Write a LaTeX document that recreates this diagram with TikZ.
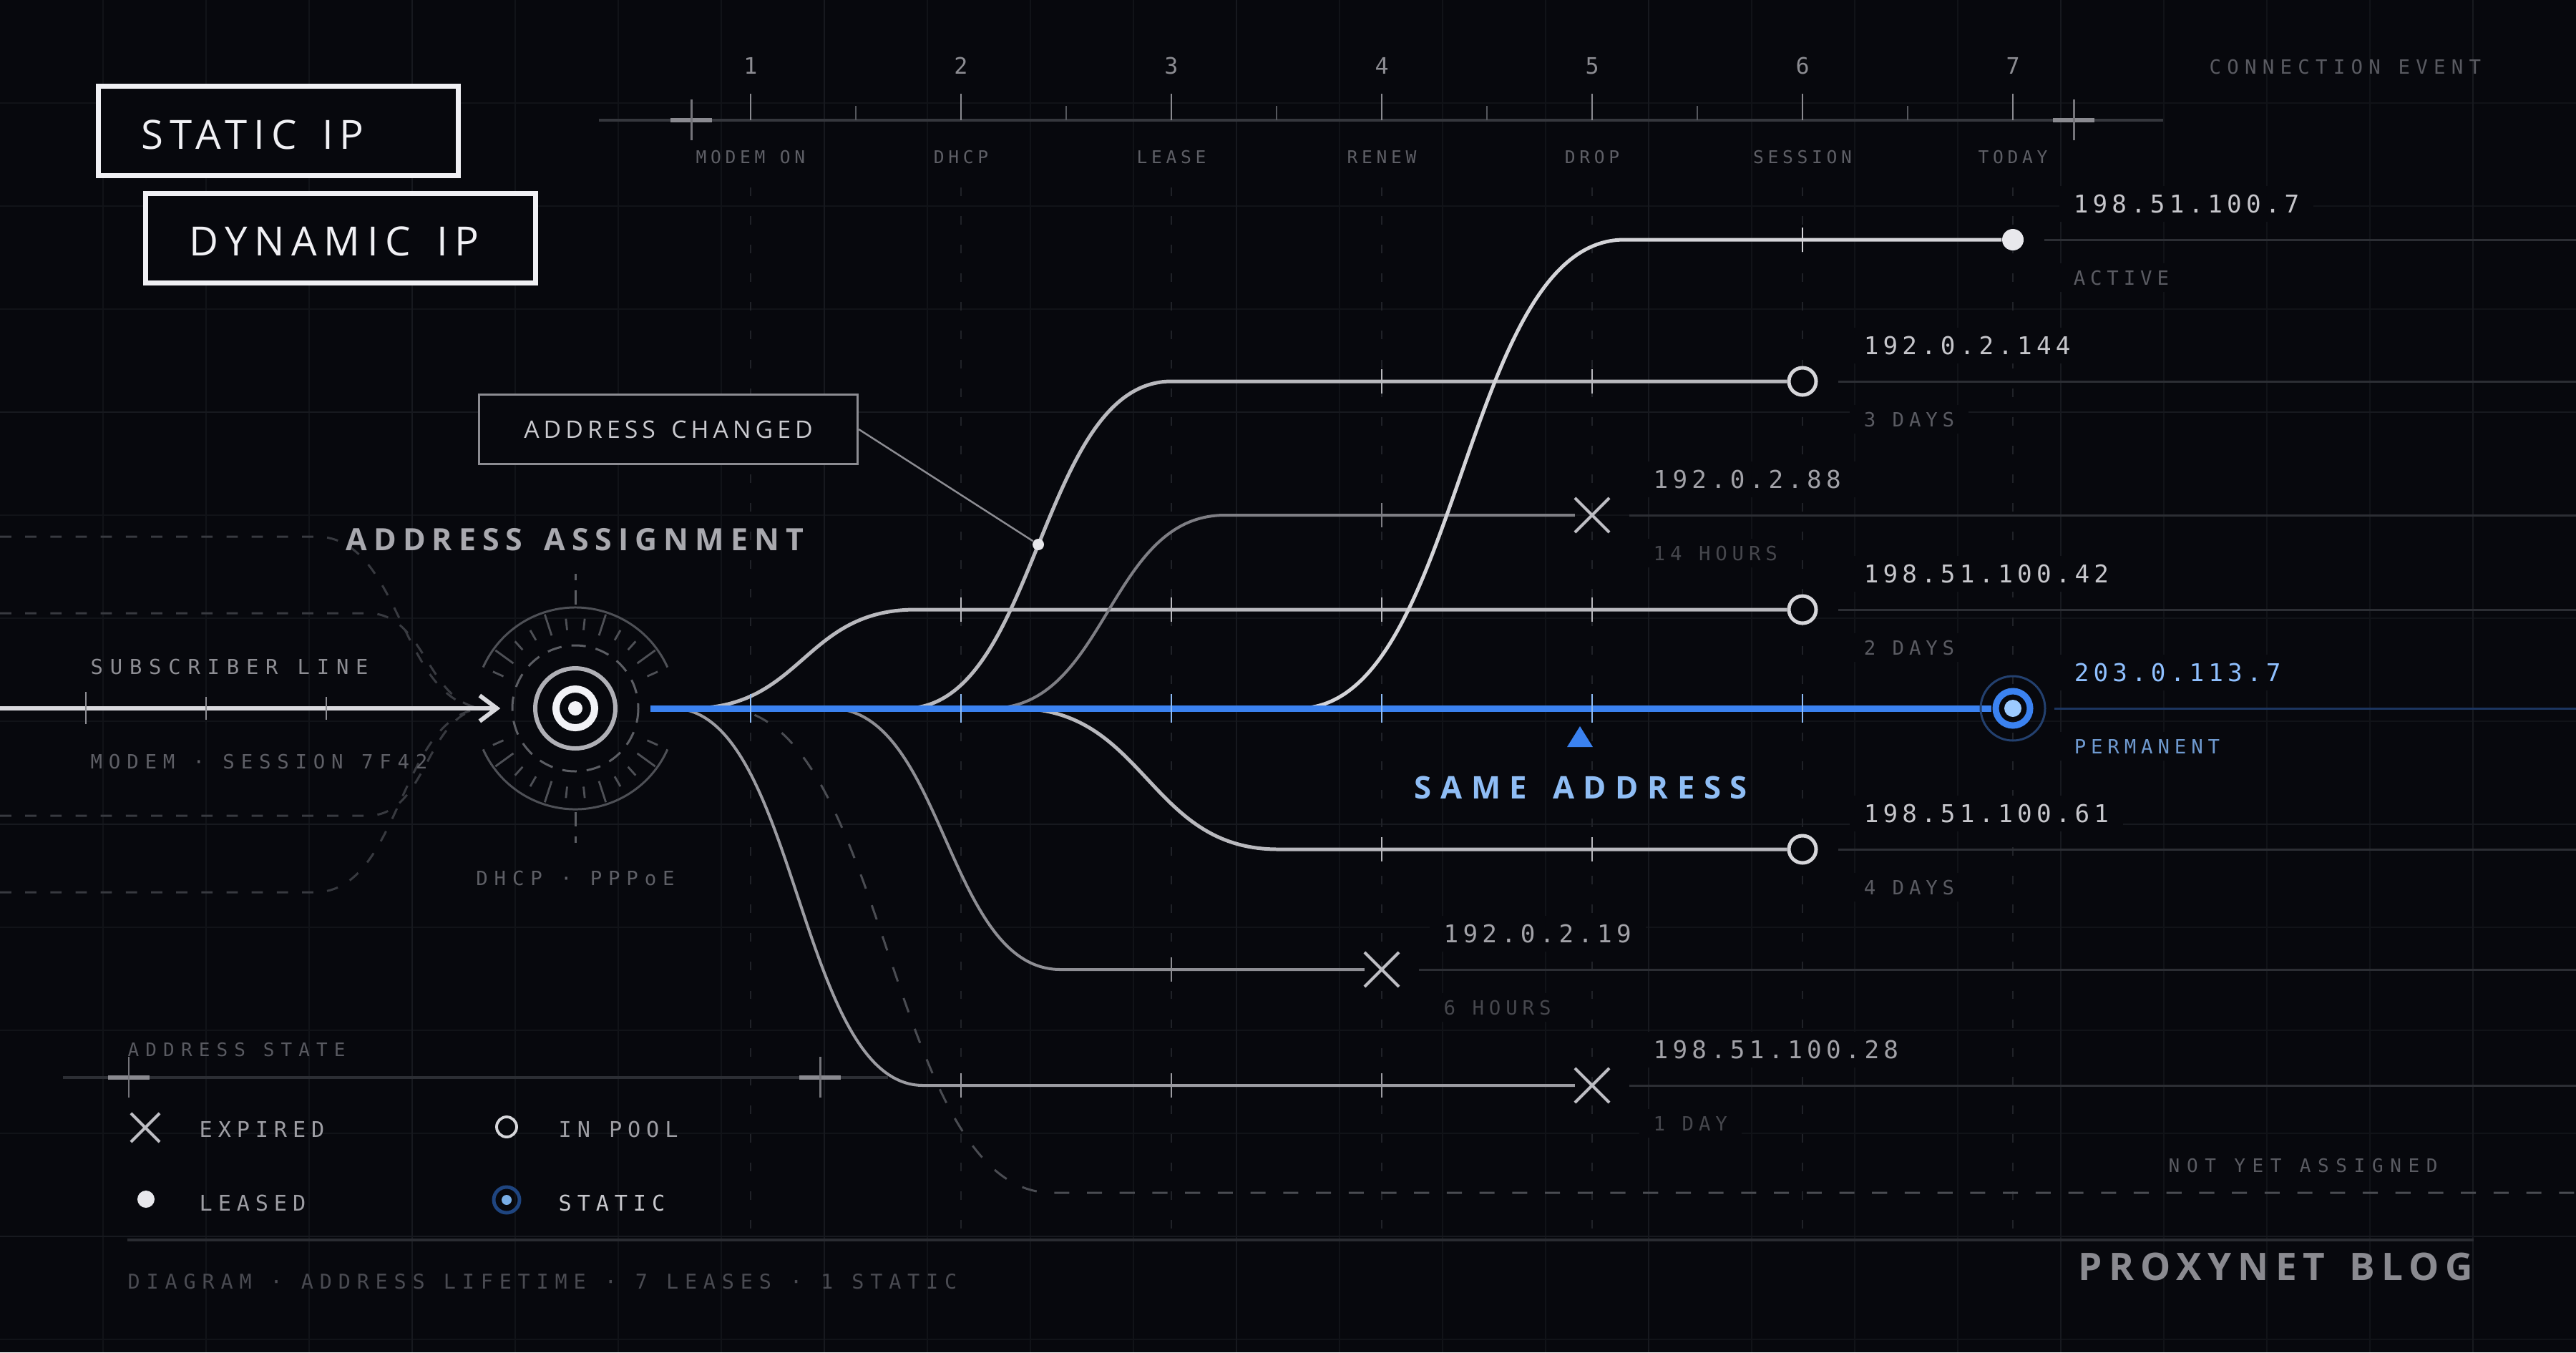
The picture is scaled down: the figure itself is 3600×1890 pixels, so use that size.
\documentclass[tikz,border=0pt]{standalone}
\usepackage{fontspec}
\usetikzlibrary{arrows.meta}
\usetikzlibrary{shapes.misc}
\usetikzlibrary{calc}

\newfontfamily\monof{DejaVu Sans Mono}
\newfontfamily\sansf{Open Sans}[WordSpace=1.5]

\definecolor{bg}{HTML}{07080D}
\definecolor{gridc}{HTML}{111318}
\definecolor{gridm}{HTML}{17191F}
\definecolor{colc}{HTML}{202228}
\definecolor{axisc}{HTML}{35373D}
\definecolor{tickc}{HTML}{8A8A90}
\definecolor{tickm}{HTML}{55575D}
\definecolor{crossc}{HTML}{74747A}
\definecolor{numc}{HTML}{8C8C92}
\definecolor{evlabc}{HTML}{5E5F66}
\definecolor{headc}{HTML}{595A61}
\definecolor{tagw}{HTML}{F0F0F4}
\definecolor{calloutc}{HTML}{8C8C92}
\definecolor{callouttxt}{HTML}{CACACF}
\definecolor{secc}{HTML}{A9A9AF}
\definecolor{subheadc}{HTML}{8E8E94}
\definecolor{notec}{HTML}{5E5F66}
\definecolor{feedc}{HTML}{383A40}
\definecolor{linew}{HTML}{D9D9DD}
\definecolor{hubw}{HTML}{F2F2F6}
\definecolor{hubg}{HTML}{B0B0B6}
\definecolor{hubd}{HTML}{5C5E64}
\definecolor{hubarc}{HTML}{4E5056}
\definecolor{blue}{HTML}{3B82F0}
\definecolor{bluetick}{HTML}{8DBBF5}
\definecolor{bluetxt}{HTML}{8FC0FF}
\definecolor{permc}{HTML}{6F9AD0}
\definecolor{bluefaint}{HTML}{1C3560}
\definecolor{sameblue}{HTML}{8FBDF5}
\definecolor{rowa}{HTML}{D4D4D8}
\definecolor{rowb}{HTML}{B9B9BE}
\definecolor{rowc}{HTML}{7E7E84}
\definecolor{rowd}{HTML}{8E8E94}
\definecolor{rowe}{HTML}{9C9CA2}
\definecolor{extc}{HTML}{2C2E34}
\definecolor{iptxt}{HTML}{C6C6CB}
\definecolor{iptxtdim}{HTML}{A2A2A8}
\definecolor{subtxt}{HTML}{5A5B62}
\definecolor{subtxtdim}{HTML}{46474D}
\definecolor{xc}{HTML}{BEBEC4}
\definecolor{poolc}{HTML}{D6D6DA}
\definecolor{leasec}{HTML}{E8E8EC}
\definecolor{pendc}{HTML}{4A4C52}
\definecolor{statring}{HTML}{23406E}
\definecolor{statdot}{HTML}{9CCAFF}
\definecolor{legtxt}{HTML}{9E9EA4}
\definecolor{legstatic}{HTML}{C8C8CD}
\definecolor{legring}{HTML}{1F4580}
\definecolor{legdot}{HTML}{79AEE6}
\definecolor{footc}{HTML}{2A2C32}
\definecolor{foottxt}{HTML}{4A4B52}
\definecolor{brandc}{HTML}{8A8A90}

\tikzset{
  monofont/.style 2 args={font={\monof\fontsize{#1}{#1}\selectfont\addfontfeatures{LetterSpace=#2}}},
  sansfont/.style 2 args={font={\sansf\fontsize{#1}{#1}\selectfont\addfontfeatures{LetterSpace=#2}}},
  boldfont/.style 2 args={font={\sansf\bfseries\fontsize{#1}{#1}\selectfont\addfontfeatures{LetterSpace=#2}}},
  txt/.style={inner sep=0pt, anchor=base west},
  gridline/.style={draw=gridc, line width=0.57pt},
  gridmajor/.style={draw=gridm, line width=0.57pt},
  eventcol/.style={draw=colc, line width=0.7pt, dash pattern=on 3.4pt off 8pt},
  axis/.style={draw=axisc, line width=1.1pt},
  majortick/.style={draw=tickc, line width=0.8pt},
  minortick/.style={draw=tickm, line width=0.8pt},
  crossv/.style={draw=crossc, line width=0.85pt},
  crossh/.style={draw=tickc, line width=1.7pt},
  evnum/.style={monofont={9}{0}, text=numc, inner sep=0pt, anchor=base},
  evlab/.style={monofont={7}{23}, text=evlabc, inner sep=0pt, anchor=base},
  evhead/.style={txt, monofont={7.8}{30}, text=headc},
  tagframe/.style={draw=tagw, line width=2pt, fill=bg, inner sep=0pt},
  tagtext/.style={txt, sansfont={16}{16}, text=tagw},
  callout/.style={draw=calloutc, line width=0.85pt, fill=bg, minimum width=5.29cm,
    minimum height=0.96cm, sansfont={9.6}{18}, text=callouttxt},
  pindot/.style={circle, fill=leasec, minimum size=0.16cm, inner sep=0pt},
  leader/.style={draw=calloutc, line width=0.7pt},
  sectitle/.style={txt, boldfont={12.2}{21}, text=secc},
  subhead/.style={txt, monofont={8.2}{34}, text=subheadc},
  subnote/.style={txt, monofont={7.8}{32}, text=notec},
  feed/.style={draw=feedc, line width=0.85pt, dash pattern=on 4.5pt off 5.5pt},
  subline/.style={draw=linew, line width=1.7pt, -{Straight Barb[length=6.8pt,width=10.2pt]}},
  subtick/.style={draw=subheadc, line width=0.8pt},
  hubn/.style={circle, minimum size=2.08cm, inner sep=0pt},
  hubdash/.style={draw=hubd, line width=0.85pt, dash pattern=on 5.7pt off 4pt},
  hubtick/.style={draw=hubarc, line width=0.8pt},
  rowhi/.style={draw=rowa, line width=1.42pt},
  rowmid/.style={draw=rowb, line width=1.42pt},
  rowlow/.style={draw=rowc, line width=1.14pt},
  rowdim/.style={draw=rowd, line width=1.14pt},
  rowold/.style={draw=rowe, line width=1.14pt},
  rtick/.style={line width=0.7pt},
  ext/.style={draw=extc, line width=0.85pt, shorten <=0.28cm},
  pending/.style={draw=pendc, line width=0.85pt, dash pattern=on 6pt off 7pt},
  bluerow/.style={draw=blue, line width=2.56pt},
  bluetk/.style={draw=bluetick, line width=0.8pt},
  pool/.style={circle, draw=poolc, line width=1.42pt, fill=bg, minimum size=0.38cm, inner sep=0pt},
  leased/.style={circle, fill=leasec, minimum size=0.30cm, inner sep=0pt},
  expired/.style={cross out, draw=xc, line width=1.15pt, minimum size=0.44cm, inner sep=0pt},
  staticn/.style={circle, minimum size=0.58cm, inner sep=0pt},
  ip/.style={monofont={9.75}{18}, text=iptxt, fill=bg, inner xsep=0.2cm, inner ysep=0.12cm, anchor=base west},
  ipdim/.style={ip, text=iptxtdim},
  sub/.style={monofont={7.8}{25}, text=subtxt, fill=bg, inner xsep=0.2cm, inner ysep=0.1cm, anchor=base west},
  subdim/.style={sub, text=subtxtdim},
  same/.style={txt, boldfont={12.4}{29}, text=sameblue},
  legtitle/.style={txt, monofont={7.4}{35}, text=headc},
  legline/.style={draw=extc, line width=1.1pt},
  legtext/.style={txt, monofont={8.6}{26}, text=legtxt},
  footline/.style={draw=footc, line width=1.1pt},
  foot/.style={txt, monofont={8.1}{31}, text=foottxt},
  brand/.style={inner sep=0pt, anchor=base east, boldfont={15.1}{17}, text=brandc},
  note/.style={txt, monofont={7.4}{37}, text=subtxt}
}

\begin{document}
\begin{tikzpicture}[x=0.01cm, y=-0.01cm]
%   1 ---- 2 ---- 3 ---- 4 ---- 5 ---- 6 ---- 7      event axis
%                     /------------------------o   leases branch off
% ---->( @ )=========+==========================@   static address
%                     \------------------x         and expire
\fill[bg] (0,0) rectangle (3600,1890);
\useasboundingbox (0,0) rectangle (3600,1890);
\foreach \gx in {144,288,...,3456} \draw[gridline] (\gx,0) -- (\gx,1890);
\foreach \gy in {144,288,...,1872} \draw[gridline] (0,\gy) -- (3600,\gy);
\foreach \gx in {576,1152,...,3456} \draw[gridmajor] (\gx,0) -- (\gx,1890);
\foreach \gy in {576,1152,1728} \draw[gridmajor] (0,\gy) -- (3600,\gy);
\foreach \ex in {1049,1343,1637,1931,2225,2519,2813} \draw[eventcol] (\ex,262) -- (\ex,1718);

% event axis
\coordinate (tlL) at (837,168);
\coordinate (tlR) at (3023,168);
\draw[axis] (tlL) -- (tlR);
\foreach \ex/\num/\lab in {1049/1/MODEM ON, 1343/2/DHCP, 1637/3/LEASE, 1931/4/RENEW,
    2225/5/DROP, 2519/6/SESSION, 2813/7/TODAY} {
  \draw[majortick] (\ex,131) -- (\ex,168);
  \node[evnum] (ev\num) at (\ex,103) {\num};
  \node[evlab] (evl\num) at (\ex,228) {\lab};
}
\foreach \mx in {1196,1490,1784,2078,2372,2666} \draw[minortick] (\mx,148) -- (\mx,168);
\foreach \cx in {966,2898} {
  \draw[crossh] ({\cx-29},168) -- ({\cx+29},168);
  \draw[crossv] (\cx,139) -- (\cx,196);
}
\node[evhead] (evhead) at (3087,103) {CONNECTION EVENT};

% tags
\node[tagframe, minimum width=5.02cm, minimum height=1.25cm] (staticbox) at (389,183) {};
\node[tagtext] (statictag) at (197,208) {STATIC IP};
\node[tagframe, minimum width=5.45cm, minimum height=1.25cm] (dynbox) at (476,333) {};
\node[tagtext, sansfont={16}{17}] (dyntag) at (264,357) {DYNAMIC IP};

% subscriber line into the assignment hub
\node[hubn] (hub) at (804,990) {};
\coordinate (lineL) at (0,990);
\coordinate (merge) at (680,990);
\coordinate (in1) at (0,750);   \coordinate (k1) at (442,750);
\coordinate (in2) at (0,857);   \coordinate (k2) at (514,857);
\coordinate (in3) at (0,1140);  \coordinate (k3) at (514,1140);
\coordinate (in4) at (0,1247);  \coordinate (k4) at (440,1247);
\draw[feed] (in1) -- (k1) to[out=0,in=180,looseness=.92] (merge);
\draw[feed] (in2) -- (k2) to[out=0,in=180,looseness=1] (merge);
\draw[feed] (in3) -- (k3) to[out=0,in=180,looseness=.97] (merge);
\draw[feed] (in4) -- (k4) to[out=0,in=180,looseness=.89] (merge);
\draw[subline] (lineL) -- (hub);
\draw[subtick] (120,967) -- (120,1012);
\draw[subtick] (288,974) -- (288,1006);
\draw[subtick] (456,974) -- (456,1006);
\node[subhead] (subl) at (126,942) {SUBSCRIBER LINE};
\node[subnote] (sess) at (126,1074) {MODEM · SESSION 7F42};
\node[sectitle] (assign) at (483,769) {ADDRESS ASSIGNMENT};
\node[subnote, anchor=base] (proto) at (804,1237) {DHCP · PPPoE};

\fill[hubw] (hub) circle[radius=10];
\draw[hubw, line width=2.85pt] (hub) circle[radius=27];
\draw[hubg, line width=1.7pt] (hub) circle[radius=56];
\draw[hubdash] (hub) circle[radius=88];
\draw[hubarc, line width=0.85pt] ($(hub)+(24:141)$) arc[start angle=24, end angle=156, radius=141];
\draw[hubarc, line width=0.85pt] ($(hub)+(204:141)$) arc[start angle=204, end angle=336, radius=141];
\foreach \a in {36,72,108,144,216,252,288,324}
  \draw[hubtick] ($(hub)+(\a:107)$) -- ($(hub)+(\a:138)$);
\foreach \a in {24,48,60,84,96,120,132,156,204,228,240,264,276,300,312,336}
  \draw[hubtick] ($(hub)+(\a:110)$) -- ($(hub)+(\a:126)$);
\draw[hubdash] ($(hub)+(0,-145)$) -- ($(hub)+(0,-188)$);
\draw[hubdash] ($(hub)+(0,145)$) -- ($(hub)+(0,188)$);

% leases
\node[leased] (m1) at (2813,335) {};
\node[pool] (m2) at (2519,533) {};
\node[expired] (m3) at (2225,720) {};
\node[pool] (m4) at (2519,852) {};
\node[staticn] (m5) at (2813,990) {};
\node[pool] (m6) at (2519,1187) {};
\node[expired] (m7) at (1931,1355) {};
\node[expired] (m8) at (2225,1517) {};

\coordinate (s1) at (1814,990);  \coordinate (c1) at (2270,335);  \coordinate (r1) at (3600,335);
\coordinate (s2) at (1265,990);  \coordinate (c2) at (1637,533);  \coordinate (r2) at (3600,533);
\coordinate (s3) at (1384,990);  \coordinate (c3) at (1712,720);  \coordinate (r3) at (3600,720);
\coordinate (s4) at (965,990);   \coordinate (c4) at (1280,852);  \coordinate (r4) at (3600,852);
\coordinate (r5) at (3600,990);
\coordinate (s6) at (1420,990);  \coordinate (c6) at (1786,1187); \coordinate (r6) at (3600,1187);
\coordinate (s7) at (1160,990);  \coordinate (c7) at (1482,1355); \coordinate (r7) at (3600,1355);
\coordinate (s8) at (940,990);   \coordinate (c8) at (1290,1517); \coordinate (r8) at (3600,1517);
\coordinate (s9) at (1010,990);  \coordinate (c9) at (1470,1667); \coordinate (r9) at (3600,1667);

\draw[ext] (m1) -- (r1);
\draw[ext] (m2) -- (r2);
\draw[ext] (m3) -- (r3);
\draw[ext] (m4) -- (r4);
\draw[ext] (m6) -- (r6);
\draw[ext] (m7) -- (r7);
\draw[ext] (m8) -- (r8);
\draw[ext, draw=bluefaint] (m5) -- (r5);

\draw[pending] (s9) to[out=0,in=180,looseness=.72] (c9) -- (r9);
\draw[rowold] (s8) to[out=0,in=180,looseness=.71] (c8) -- (m8);
\draw[rowdim] (s7) to[out=0,in=180,looseness=.84] (c7) -- (m7);
\draw[rowmid] (s6) to[out=0,in=180,looseness=1.12] (c6) -- (m6);
\draw[rowmid] (s4) to[out=0,in=180,looseness=1.17] (c4) -- (m4);
\draw[rowlow] (s3) to[out=0,in=180,looseness=.99] (c3) -- (m3);
\draw[rowmid] (s2) to[out=0,in=180,looseness=.81] (c2) -- (m2);
\draw[rowhi] (s1) to[out=0,in=180,looseness=.73] (c1) -- (m1);

\draw[rowhi, rtick] (2519,318) -- (2519,352);
\foreach \ex in {1931,2225} \draw[rowmid, rtick] (\ex,516) -- (\ex,550);
\draw[rowlow, rtick] (1931,703) -- (1931,737);
\foreach \ex in {1343,1637,1931,2225} \draw[rowmid, rtick] (\ex,835) -- (\ex,869);
\foreach \ex in {1931,2225} \draw[rowmid, rtick] (\ex,1170) -- (\ex,1204);
\draw[rowdim, rtick] (1637,1338) -- (1637,1372);
\foreach \ex in {1343,1637,1931} \draw[rowold, rtick] (\ex,1500) -- (\ex,1534);

% static address
\draw[bluerow] (hub.east) -- (m5);
\foreach \ex in {1049,1343,1637,1931,2225,2519} \draw[bluetk] (\ex,970) -- (\ex,1010);
\draw[statring, line width=0.85pt] (m5) circle[radius=45];
\draw[blue, line width=2.56pt] (m5) circle[radius=24];
\fill[statdot] (m5) circle[radius=12];
\fill[blue] (2208,1015) -- (2226,1044) -- (2190,1044) -- cycle;
\node[same] (same) at (1976,1116) {SAME ADDRESS};

\node[callout] (chg) at (934,600) {ADDRESS CHANGED};
\node[pindot] (chgdot) at (1451,761) {};
\draw[leader] (chg.east) -- (chgdot);

% labels
\node[ip] (ip1) at (2877,297) {198.51.100.7};
\node[sub] (st1) at (2877,398) {ACTIVE};
\node[ip] (ip2) at (2584,495) {192.0.2.144};
\node[sub] (st2) at (2584,596) {3 DAYS};
\node[ipdim] (ip3) at (2290,682) {192.0.2.88};
\node[subdim] (st3) at (2290,783) {14 HOURS};
\node[ip] (ip4) at (2584,814) {198.51.100.42};
\node[sub] (st4) at (2584,915) {2 DAYS};
\node[ip, text=bluetxt] (ip5) at (2878,952) {203.0.113.7};
\node[sub, text=permc] (st5) at (2878,1053) {PERMANENT};
\node[ip] (ip6) at (2584,1149) {198.51.100.61};
\node[sub] (st6) at (2584,1250) {4 DAYS};
\node[ipdim] (ip7) at (1997,1317) {192.0.2.19};
\node[subdim] (st7) at (1997,1418) {6 HOURS};
\node[ipdim] (ip8) at (2290,1479) {198.51.100.28};
\node[subdim] (st8) at (2290,1580) {1 DAY};
\node[note] (notyet) at (3030,1638) {NOT YET ASSIGNED};

% legend
\node[legtitle] (lgt) at (178,1476) {ADDRESS STATE};
\coordinate (lgL) at (88,1506);
\coordinate (lgR) at (1241,1506);
\draw[legline] (lgL) -- (lgR);
\foreach \cx in {180,1146} {
  \draw[crossh] ({\cx-29},1506) -- ({\cx+29},1506);
  \draw[crossv] (\cx,1477) -- (\cx,1534);
}
\node[expired, minimum size=0.36cm] (kx) at (203,1576) {};
\node[legtext] (kxt) at (278,1589) {EXPIRED};
\node[pool, minimum size=0.28cm, line width=1.1pt] (kp) at (708,1575) {};
\node[legtext] (kpt) at (780,1589) {IN POOL};
\node[leased, minimum size=0.24cm] (kl) at (204,1676) {};
\node[legtext] (klt) at (278,1692) {LEASED};
\node[staticn, minimum size=0.4cm] (ks) at (708,1677) {};
\draw[legring, line width=1.4pt] (ks) circle[radius=18];
\fill[legdot] (ks) circle[radius=7];
\node[legtext, text=legstatic] (kst) at (780,1692) {STATIC};

% footer
\coordinate (ftL) at (178,1733);
\coordinate (ftR) at (3457,1733);
\draw[footline] (ftL) -- (ftR);
\node[foot] (caption) at (178,1801) {DIAGRAM · ADDRESS LIFETIME · 7 LEASES · 1 STATIC};
\node[brand] (brand) at (3457,1789) {PROXYNET BLOG};
\end{tikzpicture}
\end{document}
